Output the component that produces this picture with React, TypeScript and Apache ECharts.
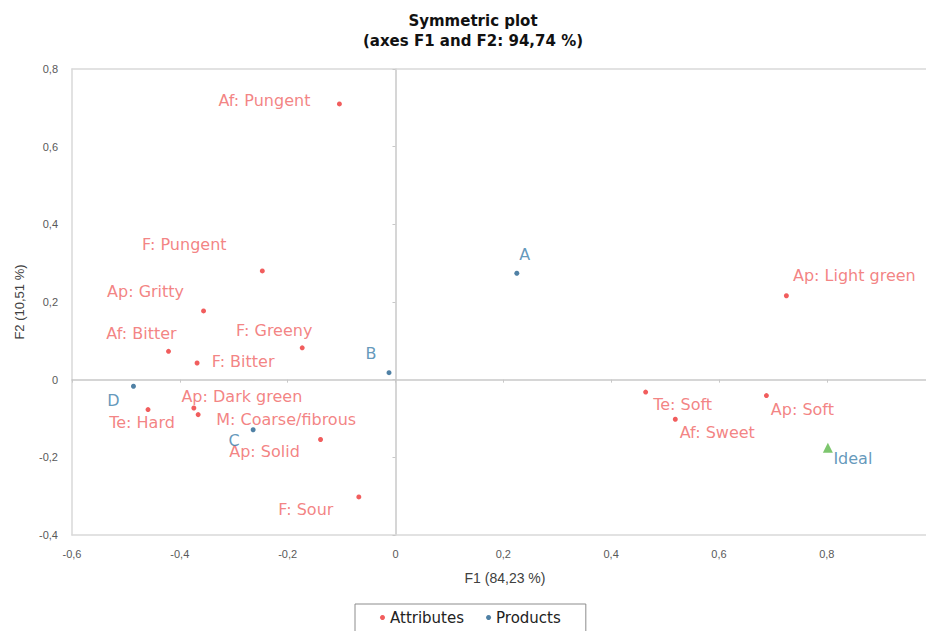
import React, { useEffect, useRef } from "react";
import * as echarts from "echarts";

// ---- Data ----
const attributeNames = [
  "Af: Pungent",
  "F: Pungent",
  "Ap: Gritty",
  "Af: Bitter",
  "F: Bitter",
  "F: Greeny",
  "Ap: Dark green",
  "M: Coarse/fibrous",
  "Te: Hard",
  "Ap: Solid",
  "F: Sour",
  "Ap: Light green",
  "Te: Soft",
  "Ap: Soft",
  "Af: Sweet",
];
const attributeF1 = [-0.104, -0.247, -0.356, -0.421, -0.368, -0.173, -0.374, -0.366, -0.459, -0.139, -0.068, 0.725, 0.464, 0.688, 0.519];
const attributeF2 = [0.71, 0.28, 0.177, 0.073, 0.043, 0.082, -0.073, -0.09, -0.077, -0.154, -0.302, 0.216, -0.032, -0.041, -0.102];

const productNames = ["A", "B", "C", "D"];
const productF1 = [0.225, -0.012, -0.264, -0.486];
const productF2 = [0.274, 0.018, -0.129, -0.017];

const idealName = "Ideal";
const idealF1 = 0.802;
const idealF2 = -0.175;

// the visible plot is cut at the right edge, just before 1
const xTicks = { min: -0.6, max: 0.984, interval: 0.2 };
const yTicks = { min: -0.4, max: 0.8, interval: 0.2 };

// ---- Label placement (style only, offsets in px from point) ----
const labelOffsets: Record<string, [number, number]> = {
  "Af: Pungent": [-75, -3],
  "F: Pungent": [-78, -26],
  "Ap: Gritty": [-58, -19],
  "Af: Bitter": [-27, -18],
  "F: Bitter": [46, -1],
  "F: Greeny": [-28, -17],
  "Ap: Dark green": [48, -12],
  "M: Coarse/fibrous": [88, 5],
  "Te: Hard": [-6, 13],
  "Ap: Solid": [-56, 12],
  "F: Sour": [-53, 13],
  "Ap: Light green": [68, -20],
  "Te: Soft": [37, 12],
  "Ap: Soft": [36, 14],
  "Af: Sweet": [42, 13],
  A: [8, -19],
  B: [-18, -19],
  C: [-19, 11],
  D: [-20, 14],
  Ideal: [25, 11],
};

const RED = "#ee3434";
const RED_LABEL = "#f06464";
const BLUE = "#24628f";
const BLUE_LABEL = "#3b7eaa";
const LABEL_FONT = "'DejaVu Sans', 'Open Sans', sans-serif";
const AXIS_FONT = "'Liberation Sans', Arial, sans-serif";
const BORDER = "#d9d9d9";
const ZERO = "#c8c8c8";

const fmt = (v: number) => {
  if (Math.abs(v) < 1e-9) return "0";
  return v.toFixed(1).replace(".", ",");
};

function makePoints(names: string[], xs: number[], ys: number[], labelColor: string) {
  return names.map((n, i) => ({
    name: n,
    value: [xs[i], ys[i]],
    label: { offset: labelOffsets[n] || [0, 0], color: labelColor },
  }));
}

export default function App() {
  const ref = useRef<HTMLDivElement>(null);
  useEffect(() => {
    document.body.style.margin = "0";
    if (!ref.current) return;
    const chart = echarts.init(ref.current, undefined, { renderer: "svg" });
    const baseLabel = {
      show: true,
      position: "inside",
      formatter: "{b}",
      fontSize: 16,
      fontFamily: LABEL_FONT,
    };
    const hiddenAxisParts = {
      axisLabel: { show: false },
      splitLine: { show: false },
    };
    const option: any = {
      animation: false,
      backgroundColor: "#ffffff",
      title: {
        text: "Symmetric plot\n(axes F1 and F2: 94,74 %)",
        left: 468,
        textAlign: "center",
        top: 6,
        textStyle: {
          fontSize: 15,
          fontWeight: "bold",
          fontFamily: "'DejaVu Sans', sans-serif",
          color: "#111",
          lineHeight: 20,
        },
      },
      legend: {
        data: ["Attributes", "Products"],
        left: 355,
        top: 604,
        icon: "circle",
        itemWidth: 5,
        itemHeight: 5,
        itemGap: 22,
        padding: [6, 25, 14, 25],
        borderColor: "#8c8c8c",
        borderWidth: 1,
        textStyle: { fontSize: 15, fontFamily: LABEL_FONT, color: "#222" },
      },
      grid: {
        left: 72,
        top: 69,
        right: 0,
        height: 466,
        show: false,
        containLabel: false,
      },
      xAxis: [
        {
          type: "value",
          ...xTicks,
          position: "bottom",
          axisLine: { show: true, onZero: false, lineStyle: { color: BORDER, width: 1.5 } },
          axisTick: { show: false },
          splitLine: { show: false },
          axisLabel: {
            formatter: fmt,
            margin: 13,
            fontSize: 11,
            color: "#595959",
            fontFamily: AXIS_FONT,
            showMaxLabel: false,
          },
          name: "F1 (84,23 %)",
          nameLocation: "middle",
          nameGap: 36,
          nameTextStyle: { fontSize: 14, color: "#404040", fontFamily: AXIS_FONT, padding: [0, 0, 0, 12] },
        },
        {
          type: "value",
          ...xTicks,
          position: "bottom",
          axisLine: { show: true, onZero: true, lineStyle: { color: ZERO, width: 1.5 } },
          axisTick: { show: true, length: 3, lineStyle: { color: ZERO } },
          ...hiddenAxisParts,
        },
        {
          type: "value",
          ...xTicks,
          position: "top",
          axisLine: { show: true, onZero: false, lineStyle: { color: BORDER, width: 1.5 } },
          axisTick: { show: false },
          ...hiddenAxisParts,
        },
      ],
      yAxis: [
        {
          type: "value",
          ...yTicks,
          position: "left",
          axisLine: { show: true, onZero: false, lineStyle: { color: BORDER, width: 1.5 } },
          axisTick: { show: false },
          splitLine: { show: false },
          axisLabel: {
            formatter: fmt,
            margin: 14,
            fontSize: 11,
            color: "#595959",
            fontFamily: AXIS_FONT,
          },
          name: "F2 (10,51 %)",
          nameLocation: "middle",
          nameGap: 46,
          nameTextStyle: { fontSize: 13, color: "#404040", fontFamily: AXIS_FONT },
        },
        {
          type: "value",
          ...yTicks,
          position: "left",
          axisLine: { show: true, onZero: true, lineStyle: { color: ZERO, width: 1.5 } },
          axisTick: { show: true, length: 3, lineStyle: { color: ZERO } },
          ...hiddenAxisParts,
        },
      ],
      series: [
        {
          name: "Attributes",
          type: "scatter",
          xAxisIndex: 0,
          yAxisIndex: 0,
          symbolSize: 5,
          itemStyle: { color: RED },
          label: { ...baseLabel, color: RED_LABEL },
          data: makePoints(attributeNames, attributeF1, attributeF2, RED_LABEL),
          z: 5,
        },
        {
          name: "Products",
          type: "scatter",
          xAxisIndex: 0,
          yAxisIndex: 0,
          symbolSize: 5,
          itemStyle: { color: BLUE },
          label: { ...baseLabel, color: BLUE_LABEL },
          data: makePoints(productNames, productF1, productF2, BLUE_LABEL),
          z: 5,
        },
        {
          name: "IdealSeries",
          type: "scatter",
          xAxisIndex: 0,
          yAxisIndex: 0,
          symbol: "triangle",
          symbolSize: 10,
          itemStyle: { color: "#5cb84a" },
          label: { ...baseLabel, color: BLUE_LABEL },
          data: makePoints([idealName], [idealF1], [idealF2], BLUE_LABEL),
          z: 5,
        },
      ],
    };
    chart.setOption(option);
    return () => chart.dispose();
  }, []);
  return <div ref={ref} style={{ width: 926, height: 631 }} />;
}
